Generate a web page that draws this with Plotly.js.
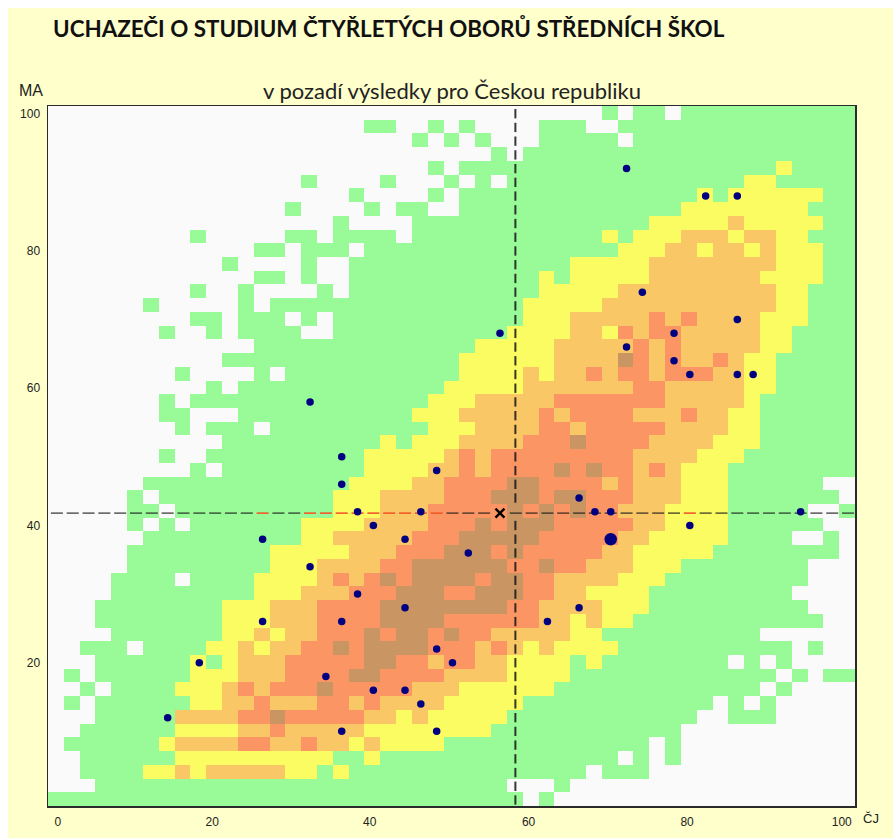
<!DOCTYPE html>
<html>
<head>
<meta charset="utf-8">
<script src="https://cdn.plot.ly/plotly-3.0.1.min.js"></script>
<style>
html,body{margin:0;padding:0;background:#fff;overflow:hidden}
#chart{position:absolute;left:8px;top:8px;width:885px;height:830px}
</style>
</head>
<body>
<div id="chart"></div>
<script>
// Cell class per grid position, top row (MA = 100) to bottom row (MA = 0), columns CJ = 0..100 in steps of 2
// 0 = none, 1 = green, 2 = yellow, 3 = light orange, 4 = salmon, 5 = brown
const densityRows = [
"0000000000 0000000000 0000000000 0000010110 1111111111 1",
"0000000000 0000000000 1100101000 0111001111 1111111111 1",
"0000000000 0000000000 0001010100 0111110111 1111111111 1",
"0000000000 0000000000 0000000010 1111111111 1111111111 1",
"0000000000 0000000000 0000101111 1111111111 1111112111 1",
"0000000000 0000001000 0100010101 1111111111 1111221111 1",
"0000000000 0000000001 0000101111 1111111111 1212222221 1",
"0000000000 0000010000 1011001111 1111111111 2222222211 1",
"0000000000 0000000010 0001111111 1111111122 2223222221 1",
"0000000001 0000011011 1101111111 1111121222 3332332211 1",
"0000000000 0001101110 1111111111 1111112223 3233232221 1",
"0000000000 0100001001 1111111111 1112222233 3333332221 1",
"0000000000 0001101001 1111111111 1212222233 3333322221 1",
"0000000001 0010000101 1111111111 1222223333 3333332211 1",
"0000001000 0010111111 1111111111 2222233333 3333332211 1",
"0000000001 1011101011 1111111111 2223333343 4333322211 1",
"0000000100 1011110011 1111111112 2223324344 3333322111 1",
"0000000000 0001111111 1111111222 2233333434 3333322111 1",
"0000000000 0111111111 1111112222 2233335434 3343221111 1",
"0000000010 0001011111 1111112222 3233434434 4433221111 1",
"0000000000 1011111111 1111122222 3333333443 3333221111 1",
"0000000101 1111111111 1111222333 3344444443 3333211111 1",
"0000000110 0011111111 1112223333 3434444333 4332211111 1",
"0000000010 1110111111 1111222333 3443444443 3332211111 1",
"0000000000 0111111111 1212223333 4445444433 3322211111 1",
"0000000100 1111111111 2222234344 4444444333 3222111111 1",
"0000000001 0111111111 2222334344 4454544343 2221111111 1",
"0000001111 1111111112 2223344445 5444434333 2221111110 0",
"0000010111 1111111122 2333344455 5455444333 2221111111 0",
"0000011011 1111111122 2333444445 4545443332 2221111100 1",
"0000010101 1111112222 3333444545 5544444332 2221111110 0",
"0000001111 1111112233 3334445555 5444443322 2221111001 0",
"0000011111 1111222223 3344455545 4444433222 2211111111 0",
"0000011111 1111222333 3445555554 4544333222 1111111100 0",
"0000111101 1112222343 4545555455 4433332221 1111111100 0",
"0000111111 1112223334 4455544555 4433222211 1111111000 0",
"0001111111 1222333444 4555555554 4333322211 1111111100 0",
"0001111111 1222333444 4555544444 4332322111 1111111110 0",
"0000111111 1223233444 5455454433 3332211111 1111100000 0",
"0011101111 2232334454 5555444343 2322221111 1111111010 0",
"0001111112 1233344444 5544344332 2221211111 1110101000 0",
"0101111112 2233344445 5444433332 2221111111 1111110101 1",
"0010111122 2343444544 4443332222 2211111111 1111101000 0",
"0101111112 2334333443 4333322222 1111111111 1101010000 0",
"0001111133 3344544444 3323222221 1111111111 1001110000 0",
"0011111122 2233433333 2222222211 1111111111 0000000000 0",
"0111111233 3344334332 3222211111 1111111101 0000000000 0",
"0011111122 2222222211 2111111111 1111110101 0000000000 0",
"0011112232 3333322121 1111111111 1111011100 0000000000 0",
"0001111111 1111111111 1111111110 0010000000 0000000000 0",
"1111111111 1111111111 1111111111 0100000000 0000000000 0"
];

const cjLevels = [0,2,4,6,8,10,12,14,16,18,20,22,24,26,28,30,32,34,36,38,40,42,44,46,48,50,52,54,56,58,60,62,64,66,68,70,72,74,76,78,80,82,84,86,88,90,92,94,96,98,100];
const maLevels = cjLevels.slice().reverse();

// School points
const schoolCJ = [72,82,86,74,78,86,72,56,78,80,86,88,32,36,48,36,66,38,46,68,70,94,40,80,44,26,52,32,38,44,66,26,36,62,48,18,50,34,40,44,46,14,36,48];
const schoolMA = [92,88,88,74,68,70,66,68,64,62,62,62,58,50,48,46,44,42,42,42,42,42,40,40,38,38,36,34,30,28,28,26,26,26,22,20,20,18,16,16,14,12,10,10];
const bigSchoolCJ = [70];
const bigSchoolMA = [38];

// Reference values
const refCJ = [56];
const refMA = [41.8];
const refLineCJ = 57.95;
const refLineMA = 41.8;
const redDashCJ = [26,32,34,36,38,40,42,44,46,48,80];

const xTickLabels = ["0","20","40","60","80","100"];
const xTickSpots = [0.11,19.63,39.53,59.62,79.65,99.2];
const yTicks = [20,40,60,80,100];
const classColors = ["#FAFAFA","#98FB98","#FBFB62","#FAC766","#FB9664","#C89563"];
const titleText = "UCHAZEČI O STUDIUM ČTYŘLETÝCH OBORŮ STŘEDNÍCH ŠKOL";
const subtitleText = "v pozadí výsledky pro Českou republiku";

const z = densityRows.map(r => r.replace(/ /g,"").split("").map(Number));
const n = classColors.length;
const colorscale = [];
classColors.forEach((c,i)=>{ colorscale.push([i/n,c]); colorscale.push([(i+1)/n,c]); });

function hDashes(levels, half){
  const xs=[],ys=[];
  levels.forEach(v=>{xs.push(v-half,v+half,null);ys.push(refLineMA,refLineMA,null);});
  return {x:xs,y:ys};
}
function vDashes(levels, half){
  const xs=[],ys=[];
  levels.forEach(v=>{xs.push(refLineCJ,refLineCJ,null);ys.push(v-half,v+half,null);});
  return {x:xs,y:ys};
}
const hAll = hDashes(cjLevels.filter(v=>v!==56 && redDashCJ.indexOf(v)<0), 0.76);
const hRed = hDashes(redDashCJ, 0.76);
const vAll = vDashes(maLevels.filter(v=>v!==42), 0.68);

const traces = [
 {type:"heatmap", z:z, x:cjLevels.map(v=>v-0.124), y:maLevels.map(v=>v+0.125),
  zmin:0, zmax:n, colorscale:colorscale, showscale:false, zsmooth:false, hoverinfo:"skip"},
 {type:"scatter", mode:"lines", x:hAll.x, y:hAll.y, line:{color:"rgba(25,25,25,0.68)",width:1.6}, connectgaps:false, hoverinfo:"skip"},
 {type:"scatter", mode:"lines", x:hRed.x, y:hRed.y, line:{color:"#F2592B",width:1.6}, connectgaps:false, hoverinfo:"skip"},
 {type:"scatter", mode:"lines", x:vAll.x, y:vAll.y, line:{color:"rgba(20,20,20,0.85)",width:2}, connectgaps:false, hoverinfo:"skip"},
 {type:"scatter", mode:"markers", x:schoolCJ, y:schoolMA, marker:{color:"#000080",size:7.5,line:{width:0}}, hoverinfo:"skip"},
 {type:"scatter", mode:"markers", x:bigSchoolCJ, y:bigSchoolMA, marker:{color:"#000080",size:12.5,line:{width:0}}, hoverinfo:"skip"},
 {type:"scatter", mode:"markers", x:refCJ, y:refMA, marker:{symbol:"x-thin",color:"#000",size:9,line:{color:"#000",width:2.4}}, hoverinfo:"skip"}
];

const axisBase = {showgrid:false, zeroline:false, showline:true, mirror:true, linecolor:"#2a2a2a", linewidth:1.5,
  ticks:"outside", ticklen:4, tickcolor:"rgba(0,0,0,0)", tickfont:{family:"Liberation Sans, Arial, sans-serif",size:12,color:"#222"}};

const layout = {
  width:885, height:830,
  margin:{l:40.2,r:37.5,t:98.3,b:32.3,pad:0},
  paper_bgcolor:"#FFFFCC", plot_bgcolor:"#FAFAFA",
  showlegend:false,
  title:{text:"<b>"+titleText+"</b>", x:45/885, xanchor:"left", xref:"container", y:1-21/830, yanchor:"middle", yref:"container",
         font:{family:"Lato, sans-serif",size:22.4,color:"#111"}},
  xaxis:Object.assign({},axisBase,{range:[-1.124,100.876],tickmode:"array",tickvals:xTickSpots,ticktext:xTickLabels}),
  yaxis:Object.assign({},axisBase,{range:[-0.875,101.125],tickmode:"array",tickvals:yTicks,ticktext:yTicks.map(String)}),
  annotations:[
    {text:subtitleText, xref:"paper", yref:"paper", x:(452-48.2)/807.3, y:(805.7-91)/699.4, xanchor:"center", yanchor:"middle", showarrow:false,
     font:{family:"Lato, sans-serif",size:22,color:"#222"}},
    {text:"MA", xref:"paper", yref:"paper", x:(31-48.2)/807.3, y:(805.7-91)/699.4, xanchor:"center", yanchor:"middle", showarrow:false,
     font:{family:"Liberation Sans, Arial, sans-serif",size:16,color:"#222"}},
    {text:"ČJ", xref:"paper", yref:"paper", x:(872-48.2)/807.3, y:(805.7-818)/699.4, xanchor:"center", yanchor:"middle", showarrow:false,
     font:{family:"Liberation Sans, Arial, sans-serif",size:13,color:"#222"}}
  ]
};
Plotly.newPlot("chart", traces, layout, {displayModeBar:false, staticPlot:true});
</script>
</body>
</html>
